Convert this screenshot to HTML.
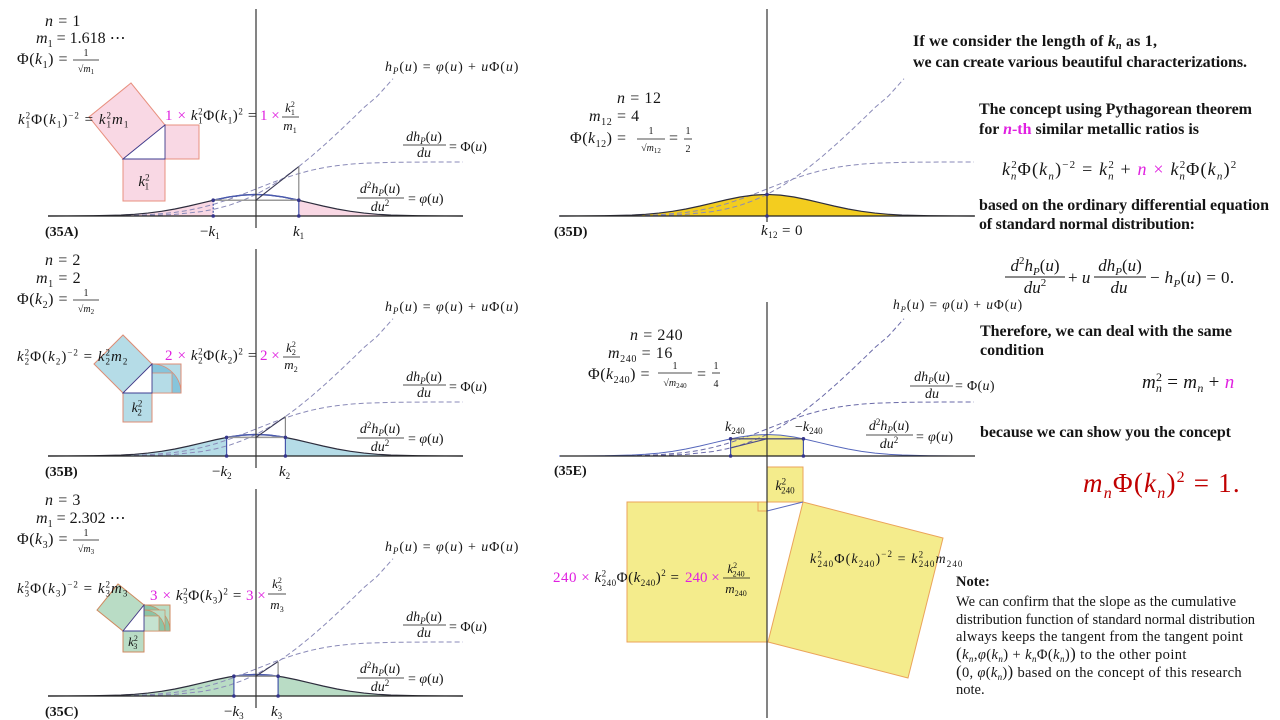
<!DOCTYPE html>
<html><head><meta charset="utf-8">
<style>
html,body{margin:0;padding:0;background:#fff;}
svg{display:block;}
text{font-family:"Liberation Serif","DejaVu Serif",serif;fill:#151515;}
.i{font-style:italic;}
.b{font-weight:bold;}
.pk{fill:#e020e0;}
.red{fill:#c00000;}
</style></head><body>
<svg width="1280" height="720" viewBox="0 0 1280 720" xmlns="http://www.w3.org/2000/svg">
<defs>
<path id="N" d="M-208,0 L-189,-0.05 L-162,-0.24 L-135,-0.95 L-121.5,-1.7 L-108,-2.92 L-94.5,-4.66 L-81,-6.99 L-67.5,-9.86 L-54,-13.07 L-40.5,-16.26 L-27,-19.01 L-13.5,-20.88 L0,-21.54 L13.5,-20.88 L27,-19.01 L40.5,-16.26 L54,-13.07 L67.5,-9.86 L81,-6.99 L94.5,-4.66 L108,-2.92 L121.5,-1.7 L135,-0.95 L162,-0.24 L189,-0.05 L207,0"/>
<path id="NA" d="M-208,0 L-189,-0.05 L-162,-0.24 L-135,-0.95 L-121.5,-1.7 L-108,-2.92 L-94.5,-4.66 L-81,-6.99 L-67.5,-9.86 L-54,-13.07 L-40.5,-16.26 L-27,-19.01 L-13.5,-20.88 L0,-21.54 L13.5,-20.88 L27,-19.01 L40.5,-16.26 L54,-13.07 L67.5,-9.86 L81,-6.99 L94.5,-4.66 L108,-2.92 L121.5,-1.7 L135,-0.95 L162,-0.24 L189,-0.05 L207,0 Z"/>
<path id="PH" d="M-162,-0.07 L-135,-0.33 L-108,-1.23 L-81,-3.61 L-67.5,-5.7 L-54,-8.57 L-40.5,-12.24 L-27,-16.66 L-13.5,-21.67 L0,-27 L13.5,-32.33 L27,-37.34 L40.5,-41.76 L54,-45.43 L67.5,-48.3 L81,-50.39 L94.5,-51.84 L108,-52.77 L135,-53.67 L162,-53.93 L207,-54"/>
<path id="H" d="M-162,-0.02 L-135,-0.11 L-108,-0.45 L-81,-1.58 L-54,-4.5 L-40.5,-7.08 L-27,-10.68 L-13.5,-15.46 L0,-21.54 L13.5,-28.97 L27,-37.68 L40.5,-47.58 L54,-58.5 L67.5,-70.23 L81,-82.58 L94.5,-95.37 L108,-108.45 L121.5,-120 L137,-137.3"/>
<clipPath id="tA"><rect x="-210" y="-30" width="167.2" height="31"/><rect x="42.8" y="-30" width="168" height="31"/></clipPath>
<clipPath id="mA"><rect x="-42.8" y="-30" width="85.6" height="31"/></clipPath>
<clipPath id="tB"><rect x="-210" y="-30" width="180.6" height="31"/><rect x="29.4" y="-30" width="181" height="31"/></clipPath>
<clipPath id="mB"><rect x="-29.4" y="-30" width="58.8" height="31"/></clipPath>
<clipPath id="tC"><rect x="-210" y="-30" width="187.9" height="31"/><rect x="22.1" y="-30" width="188" height="31"/></clipPath>
<clipPath id="mC"><rect x="-22.1" y="-30" width="44.2" height="31"/></clipPath>
<clipPath id="mE"><rect x="-36.4" y="-30" width="72.8" height="31"/></clipPath>
</defs>

<!-- ============ PANEL A ============ -->
<g transform="translate(256,216)">
<use href="#NA" fill="#f9d8e4" clip-path="url(#tA)"/>
<use href="#PH" fill="none" stroke="#8a8ab8" stroke-width="1" stroke-dasharray="5 3"/>
<use href="#H" fill="none" stroke="#8a8ab8" stroke-width="1" stroke-dasharray="5 3"/>
<use href="#N" fill="none" stroke="#2d2d3d" stroke-width="1.2"/>
<use href="#N" fill="none" stroke="#4a5ab0" stroke-width="1.4" clip-path="url(#mA)"/>
<path d="M-42.8,-15.8 H42.8" stroke="#999" stroke-width="1.5"/>
<path d="M0,-15.8 L42.8,-49.4" stroke="#3a3a55" stroke-width="1.1"/>
<path d="M42.8,-49.4 V-15.8" stroke="#888" stroke-width="1.2"/>
<path d="M42.8,-15.8 V0" stroke="#4455aa" stroke-width="1.2"/>
<path d="M-42.8,-15.8 V0" stroke="#4455aa" stroke-width="1.2" stroke-dasharray="2 1.5"/>
<path d="M-208,0 H207" stroke="#222" stroke-width="1.3"/>
<path d="M0,-207 V12" stroke="#333" stroke-width="1.2"/>
<circle cx="-42.8" cy="-15.8" r="1.8" fill="#35358a"/><circle cx="42.8" cy="-15.8" r="1.8" fill="#35358a"/>
<circle cx="-42.8" cy="0" r="1.8" fill="#35358a"/><circle cx="42.8" cy="0" r="1.8" fill="#35358a"/>
</g>
<polygon points="123,159 165,125 131,83 89,117" fill="#f9d8e4" stroke="#e8907f" stroke-width="1"/>
<rect x="165" y="125" width="34" height="34" fill="#f9d8e4" stroke="#e8907f" stroke-width="1"/>
<rect x="123" y="159" width="42" height="42" fill="#f9d8e4" stroke="#e8907f" stroke-width="1"/>
<polygon points="123,159 165,125 165,159" fill="#fff" stroke="#3d3d90" stroke-width="0.9"/>

<text x="45" y="26" font-size="16" letter-spacing="0.6"><tspan class="i">n</tspan> = 1</text>
<text x="36" y="43" font-size="16"><tspan class="i">m</tspan><tspan font-size="10" dy="4">1</tspan><tspan dy="-4"> = 1.618 ⋯</tspan></text>
<text x="17" y="64" font-size="16" letter-spacing="0.5">Φ(<tspan class="i">k</tspan><tspan font-size="10" dy="4">1</tspan><tspan dy="-4">) =</tspan></text>
<text x="86" y="56" font-size="10" text-anchor="middle">1</text>
<line x1="73" y1="60" x2="99" y2="60" stroke="#151515" stroke-width="0.8"/>
<text x="86" y="72" font-size="10" text-anchor="middle">√<tspan class="i">m</tspan><tspan font-size="7" dy="2">1</tspan></text>

<text x="18" y="124" font-size="15" letter-spacing="1"><tspan class="i">k</tspan><tspan font-size="9" dy="-5.5">2</tspan><tspan font-size="9" dx="-5.5" dy="9">1</tspan><tspan dy="-3.5">Φ(</tspan><tspan class="i">k</tspan><tspan font-size="9" dy="3.5">1</tspan><tspan dy="-3.5">)</tspan><tspan font-size="9" dy="-5.5">−2</tspan><tspan dy="5.5"> = </tspan><tspan class="i">k</tspan><tspan font-size="9" dy="-5.5">2</tspan><tspan font-size="9" dx="-5.5" dy="9">1</tspan><tspan class="i" dy="-3.5">m</tspan><tspan font-size="9" dy="3.5">1</tspan></text>
<text x="165" y="120" font-size="15" letter-spacing="0.6"><tspan class="pk">1 × </tspan><tspan class="i">k</tspan><tspan font-size="9" dy="-5.5">2</tspan><tspan font-size="9" dx="-5.1" dy="9">1</tspan><tspan dy="-3.5">Φ(</tspan><tspan class="i">k</tspan><tspan font-size="9" dy="3.5">1</tspan><tspan dy="-3.5">)</tspan><tspan font-size="9" dy="-5.5">2</tspan><tspan dy="5.5"> =</tspan></text>
<text x="260" y="120" font-size="15" class="pk">1 ×</text>
<text x="290" y="112" font-size="13" text-anchor="middle"><tspan class="i">k</tspan><tspan font-size="8" dy="-5">2</tspan><tspan font-size="8" dx="-4" dy="8">1</tspan></text>
<line x1="282" y1="117" x2="299" y2="117" stroke="#151515" stroke-width="0.8"/>
<text x="290" y="130" font-size="13" text-anchor="middle"><tspan class="i">m</tspan><tspan font-size="8" dy="3">1</tspan></text>
<text x="144" y="186" font-size="15" text-anchor="middle"><tspan class="i">k</tspan><tspan font-size="9" dy="-5.5">2</tspan><tspan font-size="9" dx="-5" dy="9">1</tspan></text>

<text x="385" y="71" font-size="14" letter-spacing="0.9"><tspan class="i">h</tspan><tspan class="i" font-size="9" dy="3">P</tspan><tspan dy="-3">(</tspan><tspan class="i">u</tspan>) = <tspan class="i">φ</tspan>(<tspan class="i">u</tspan>) + <tspan class="i">u</tspan>Φ(<tspan class="i">u</tspan>)</text>
<text x="424" y="141" font-size="14" text-anchor="middle"><tspan class="i">dh</tspan><tspan class="i" font-size="9" dy="3">P</tspan><tspan dy="-3">(</tspan><tspan class="i">u</tspan>)</text>
<line x1="403" y1="145" x2="446" y2="145" stroke="#151515" stroke-width="0.8"/>
<text x="424" y="157" font-size="14" text-anchor="middle" class="i">du</text>
<text x="449" y="151" font-size="14">= Φ(<tspan class="i">u</tspan>)</text>
<text x="380" y="193" font-size="14" text-anchor="middle"><tspan class="i">d</tspan><tspan font-size="9" dy="-5">2</tspan><tspan class="i" dy="5">h</tspan><tspan class="i" font-size="9" dy="3">P</tspan><tspan dy="-3">(</tspan><tspan class="i">u</tspan>)</text>
<line x1="357" y1="198" x2="404" y2="198" stroke="#151515" stroke-width="0.8"/>
<text x="380" y="211" font-size="14" text-anchor="middle"><tspan class="i">du</tspan><tspan font-size="9" dy="-5">2</tspan></text>
<text x="408" y="203" font-size="14">= <tspan class="i">φ</tspan>(<tspan class="i">u</tspan>)</text>

<text x="45" y="236" font-size="14" class="b">(35A)</text>
<text x="200" y="236" font-size="15">−<tspan class="i">k</tspan><tspan font-size="9" dy="3">1</tspan></text>
<text x="293" y="236" font-size="15"><tspan class="i">k</tspan><tspan font-size="9" dy="3">1</tspan></text>

<!-- ============ PANEL B ============ -->
<g transform="translate(256,456)">
<use href="#NA" fill="#b5dce7" clip-path="url(#tB)"/>
<use href="#PH" fill="none" stroke="#8a8ab8" stroke-width="1" stroke-dasharray="5 3"/>
<use href="#H" fill="none" stroke="#8a8ab8" stroke-width="1" stroke-dasharray="5 3"/>
<use href="#N" fill="none" stroke="#2d2d3d" stroke-width="1.2"/>
<use href="#N" fill="none" stroke="#4a5ab0" stroke-width="1.4" clip-path="url(#mB)"/>
<path d="M-29.4,-18.6 H29.4" stroke="#999" stroke-width="1.5"/>
<path d="M0,-18.6 L29.4,-39.4" stroke="#3a3a55" stroke-width="1.1"/>
<path d="M29.4,-39.4 V-18.6" stroke="#888" stroke-width="1.2"/>
<path d="M29.4,-18.6 V0" stroke="#4455aa" stroke-width="1.2"/>
<path d="M-29.4,-18.6 V0" stroke="#4455aa" stroke-width="1.2"/>
<path d="M-208,0 H207" stroke="#222" stroke-width="1.3"/>
<path d="M0,-207 V12" stroke="#333" stroke-width="1.2"/>
<circle cx="-29.4" cy="-18.6" r="1.8" fill="#35358a"/><circle cx="29.4" cy="-18.6" r="1.8" fill="#35358a"/>
<circle cx="-29.4" cy="0" r="1.8" fill="#35358a"/><circle cx="29.4" cy="0" r="1.8" fill="#35358a"/>
</g>
<polygon points="123,393 152,364 123,335 94,364" fill="#b5dce7" stroke="#dd8c74" stroke-width="1"/>
<rect x="152" y="364" width="29" height="29" fill="#b5dce7" stroke="#dd8c74" stroke-width="1"/>
<path d="M152,364 A29,29 0 0 1 181,393 L152,393 Z" fill="#86c5dc" stroke="#dd8c74" stroke-width="0.8"/>
<rect x="152" y="373" width="20" height="20" fill="#b5dce7" stroke="#dd8c74" stroke-width="0.8"/>
<rect x="123" y="393" width="29" height="29" fill="#b5dce7" stroke="#dd8c74" stroke-width="1"/>
<polygon points="123,393 152,364 152,393" fill="#fff" stroke="#3d3d90" stroke-width="0.9"/>

<text x="45" y="265" font-size="16" letter-spacing="0.6"><tspan class="i">n</tspan> = 2</text>
<text x="36" y="283" font-size="16" letter-spacing="0.6"><tspan class="i">m</tspan><tspan font-size="10" dy="4">1</tspan><tspan dy="-4"> = 2</tspan></text>
<text x="17" y="304" font-size="16" letter-spacing="0.5">Φ(<tspan class="i">k</tspan><tspan font-size="10" dy="4">2</tspan><tspan dy="-4">) =</tspan></text>
<text x="86" y="296" font-size="10" text-anchor="middle">1</text>
<line x1="73" y1="300" x2="99" y2="300" stroke="#151515" stroke-width="0.8"/>
<text x="86" y="312" font-size="10" text-anchor="middle">√<tspan class="i">m</tspan><tspan font-size="7" dy="2">2</tspan></text>

<text x="17" y="361" font-size="15" letter-spacing="1"><tspan class="i">k</tspan><tspan font-size="9" dy="-5.5">2</tspan><tspan font-size="9" dx="-5.5" dy="9">2</tspan><tspan dy="-3.5">Φ(</tspan><tspan class="i">k</tspan><tspan font-size="9" dy="3.5">2</tspan><tspan dy="-3.5">)</tspan><tspan font-size="9" dy="-5.5">−2</tspan><tspan dy="5.5"> = </tspan><tspan class="i">k</tspan><tspan font-size="9" dy="-5.5">2</tspan><tspan font-size="9" dx="-5.5" dy="9">2</tspan><tspan class="i" dy="-3.5">m</tspan><tspan font-size="9" dy="3.5">2</tspan></text>
<text x="165" y="360" font-size="15" letter-spacing="0.6"><tspan class="pk">2 × </tspan><tspan class="i">k</tspan><tspan font-size="9" dy="-5.5">2</tspan><tspan font-size="9" dx="-5.1" dy="9">2</tspan><tspan dy="-3.5">Φ(</tspan><tspan class="i">k</tspan><tspan font-size="9" dy="3.5">2</tspan><tspan dy="-3.5">)</tspan><tspan font-size="9" dy="-5.5">2</tspan><tspan dy="5.5"> =</tspan></text>
<text x="260" y="360" font-size="15" class="pk">2 ×</text>
<text x="291" y="352" font-size="13" text-anchor="middle"><tspan class="i">k</tspan><tspan font-size="8" dy="-5">2</tspan><tspan font-size="8" dx="-4" dy="8">2</tspan></text>
<line x1="283" y1="357" x2="300" y2="357" stroke="#151515" stroke-width="0.8"/>
<text x="291" y="369" font-size="13" text-anchor="middle"><tspan class="i">m</tspan><tspan font-size="8" dy="3">2</tspan></text>
<text x="137" y="412" font-size="14" text-anchor="middle"><tspan class="i">k</tspan><tspan font-size="9" dy="-5.5">2</tspan><tspan font-size="9" dx="-5" dy="9">2</tspan></text>

<text x="385" y="311" font-size="14" letter-spacing="0.9"><tspan class="i">h</tspan><tspan class="i" font-size="9" dy="3">P</tspan><tspan dy="-3">(</tspan><tspan class="i">u</tspan>) = <tspan class="i">φ</tspan>(<tspan class="i">u</tspan>) + <tspan class="i">u</tspan>Φ(<tspan class="i">u</tspan>)</text>
<text x="424" y="381" font-size="14" text-anchor="middle"><tspan class="i">dh</tspan><tspan class="i" font-size="9" dy="3">P</tspan><tspan dy="-3">(</tspan><tspan class="i">u</tspan>)</text>
<line x1="403" y1="385" x2="446" y2="385" stroke="#151515" stroke-width="0.8"/>
<text x="424" y="397" font-size="14" text-anchor="middle" class="i">du</text>
<text x="449" y="391" font-size="14">= Φ(<tspan class="i">u</tspan>)</text>
<text x="380" y="433" font-size="14" text-anchor="middle"><tspan class="i">d</tspan><tspan font-size="9" dy="-5">2</tspan><tspan class="i" dy="5">h</tspan><tspan class="i" font-size="9" dy="3">P</tspan><tspan dy="-3">(</tspan><tspan class="i">u</tspan>)</text>
<line x1="357" y1="438" x2="404" y2="438" stroke="#151515" stroke-width="0.8"/>
<text x="380" y="451" font-size="14" text-anchor="middle"><tspan class="i">du</tspan><tspan font-size="9" dy="-5">2</tspan></text>
<text x="408" y="443" font-size="14">= <tspan class="i">φ</tspan>(<tspan class="i">u</tspan>)</text>

<text x="45" y="476" font-size="14" class="b">(35B)</text>
<text x="212" y="476" font-size="15">−<tspan class="i">k</tspan><tspan font-size="9" dy="3">2</tspan></text>
<text x="279" y="476" font-size="15"><tspan class="i">k</tspan><tspan font-size="9" dy="3">2</tspan></text>

<!-- ============ PANEL C ============ -->
<g transform="translate(256,696)">
<use href="#NA" fill="#b9dcc5" clip-path="url(#tC)"/>
<use href="#PH" fill="none" stroke="#8a8ab8" stroke-width="1" stroke-dasharray="5 3"/>
<use href="#H" fill="none" stroke="#8a8ab8" stroke-width="1" stroke-dasharray="5 3"/>
<use href="#N" fill="none" stroke="#2d2d3d" stroke-width="1.2"/>
<use href="#N" fill="none" stroke="#4a5ab0" stroke-width="1.4" clip-path="url(#mC)"/>
<path d="M-22.1,-19.8 H22.1" stroke="#999" stroke-width="1.5"/>
<path d="M0,-19.8 L22.1,-34.4" stroke="#3a3a55" stroke-width="1.1"/>
<path d="M22.1,-34.4 V-19.8" stroke="#888" stroke-width="1.2"/>
<path d="M22.1,-19.8 V0" stroke="#4455aa" stroke-width="1.2"/>
<path d="M-22.1,-19.8 V0" stroke="#4455aa" stroke-width="1.2"/>
<path d="M-208,0 H207" stroke="#222" stroke-width="1.3"/>
<path d="M0,-207 V12" stroke="#333" stroke-width="1.2"/>
<circle cx="-22.1" cy="-19.8" r="1.8" fill="#35358a"/><circle cx="22.1" cy="-19.8" r="1.8" fill="#35358a"/>
<circle cx="-22.1" cy="0" r="1.8" fill="#35358a"/><circle cx="22.1" cy="0" r="1.8" fill="#35358a"/>
</g>
<polygon points="123,631 144,605 118,584 97,610" fill="#b9dcc5" stroke="#cf8a60" stroke-width="1"/>
<rect x="144" y="605" width="26" height="26" fill="#b9dcc5" stroke="#cf8a60" stroke-width="1"/>
<path d="M144,605 A26,26 0 0 1 170,631 L144,631 Z" fill="#8cc4a6" stroke="#cf8a60" stroke-width="0.7"/>
<rect x="144" y="610" width="21" height="21" fill="#b9dcc5" stroke="#cf8a60" stroke-width="0.7"/>
<path d="M144,610 A21,21 0 0 1 165,631 L144,631 Z" fill="#8cc4a6" stroke="#cf8a60" stroke-width="0.7"/>
<rect x="144" y="616" width="15" height="15" fill="#c5e3d0" stroke="#cf8a60" stroke-width="0.7"/>
<rect x="123" y="631" width="21" height="21" fill="#b9dcc5" stroke="#cf8a60" stroke-width="1"/>
<polygon points="123,631 144,605 144,631" fill="#fff" stroke="#3d3d90" stroke-width="0.9"/>

<text x="45" y="505" font-size="16" letter-spacing="0.6"><tspan class="i">n</tspan> = 3</text>
<text x="36" y="523" font-size="16"><tspan class="i">m</tspan><tspan font-size="10" dy="4">1</tspan><tspan dy="-4"> = 2.302 ⋯</tspan></text>
<text x="17" y="544" font-size="16" letter-spacing="0.5">Φ(<tspan class="i">k</tspan><tspan font-size="10" dy="4">3</tspan><tspan dy="-4">) =</tspan></text>
<text x="86" y="536" font-size="10" text-anchor="middle">1</text>
<line x1="73" y1="540" x2="99" y2="540" stroke="#151515" stroke-width="0.8"/>
<text x="86" y="552" font-size="10" text-anchor="middle">√<tspan class="i">m</tspan><tspan font-size="7" dy="2">3</tspan></text>

<text x="17" y="593" font-size="15" letter-spacing="1"><tspan class="i">k</tspan><tspan font-size="9" dy="-5.5">2</tspan><tspan font-size="9" dx="-5.5" dy="9">3</tspan><tspan dy="-3.5">Φ(</tspan><tspan class="i">k</tspan><tspan font-size="9" dy="3.5">3</tspan><tspan dy="-3.5">)</tspan><tspan font-size="9" dy="-5.5">−2</tspan><tspan dy="5.5"> = </tspan><tspan class="i">k</tspan><tspan font-size="9" dy="-5.5">2</tspan><tspan font-size="9" dx="-5.5" dy="9">3</tspan><tspan class="i" dy="-3.5">m</tspan><tspan font-size="9" dy="3.5">3</tspan></text>
<text x="150" y="600" font-size="15" letter-spacing="0.6"><tspan class="pk">3 × </tspan><tspan class="i">k</tspan><tspan font-size="9" dy="-5.5">2</tspan><tspan font-size="9" dx="-5.1" dy="9">3</tspan><tspan dy="-3.5">Φ(</tspan><tspan class="i">k</tspan><tspan font-size="9" dy="3.5">3</tspan><tspan dy="-3.5">)</tspan><tspan font-size="9" dy="-5.5">2</tspan><tspan dy="5.5"> =</tspan></text>
<text x="246" y="600" font-size="15" class="pk">3 ×</text>
<text x="277" y="588" font-size="13" text-anchor="middle"><tspan class="i">k</tspan><tspan font-size="8" dy="-5">2</tspan><tspan font-size="8" dx="-4" dy="8">3</tspan></text>
<line x1="268" y1="594" x2="286" y2="594" stroke="#151515" stroke-width="0.8"/>
<text x="277" y="609" font-size="13" text-anchor="middle"><tspan class="i">m</tspan><tspan font-size="8" dy="3">3</tspan></text>
<text x="133" y="646" font-size="13" text-anchor="middle"><tspan class="i">k</tspan><tspan font-size="8" dy="-5">2</tspan><tspan font-size="8" dx="-4.5" dy="8">3</tspan></text>

<text x="385" y="551" font-size="14" letter-spacing="0.9"><tspan class="i">h</tspan><tspan class="i" font-size="9" dy="3">P</tspan><tspan dy="-3">(</tspan><tspan class="i">u</tspan>) = <tspan class="i">φ</tspan>(<tspan class="i">u</tspan>) + <tspan class="i">u</tspan>Φ(<tspan class="i">u</tspan>)</text>
<text x="424" y="621" font-size="14" text-anchor="middle"><tspan class="i">dh</tspan><tspan class="i" font-size="9" dy="3">P</tspan><tspan dy="-3">(</tspan><tspan class="i">u</tspan>)</text>
<line x1="403" y1="625" x2="446" y2="625" stroke="#151515" stroke-width="0.8"/>
<text x="424" y="637" font-size="14" text-anchor="middle" class="i">du</text>
<text x="449" y="631" font-size="14">= Φ(<tspan class="i">u</tspan>)</text>
<text x="380" y="673" font-size="14" text-anchor="middle"><tspan class="i">d</tspan><tspan font-size="9" dy="-5">2</tspan><tspan class="i" dy="5">h</tspan><tspan class="i" font-size="9" dy="3">P</tspan><tspan dy="-3">(</tspan><tspan class="i">u</tspan>)</text>
<line x1="357" y1="678" x2="404" y2="678" stroke="#151515" stroke-width="0.8"/>
<text x="380" y="691" font-size="14" text-anchor="middle"><tspan class="i">du</tspan><tspan font-size="9" dy="-5">2</tspan></text>
<text x="408" y="683" font-size="14">= <tspan class="i">φ</tspan>(<tspan class="i">u</tspan>)</text>

<text x="45" y="716" font-size="14" class="b">(35C)</text>
<text x="224" y="716" font-size="15">−<tspan class="i">k</tspan><tspan font-size="9" dy="3">3</tspan></text>
<text x="271" y="716" font-size="15"><tspan class="i">k</tspan><tspan font-size="9" dy="3">3</tspan></text>

<!-- ============ PANEL D ============ -->
<g transform="translate(767,216)">
<use href="#NA" fill="#f3cd1f"/>
<use href="#PH" fill="none" stroke="#8a8ab8" stroke-width="1" stroke-dasharray="5 3"/>
<use href="#H" fill="none" stroke="#8a8ab8" stroke-width="1" stroke-dasharray="5 3"/>
<use href="#N" fill="none" stroke="#2d2d3d" stroke-width="1.2"/>
<path d="M-207,0 H208" stroke="#222" stroke-width="1.3"/>
<path d="M0,-207 V6" stroke="#333" stroke-width="1.2"/>
<circle cx="0" cy="-21.5" r="1.8" fill="#35358a"/><circle cx="0" cy="0" r="1.8" fill="#35358a"/>
</g>
<text x="617" y="103" font-size="16" letter-spacing="0.6"><tspan class="i">n</tspan> = 12</text>
<text x="589" y="121" font-size="16" letter-spacing="0.6"><tspan class="i">m</tspan><tspan font-size="10" dy="4">12</tspan><tspan dy="-4"> = 4</tspan></text>
<text x="570" y="143" font-size="16" letter-spacing="0.5">Φ(<tspan class="i">k</tspan><tspan font-size="10" dy="4">12</tspan><tspan dy="-4">) =</tspan></text>
<text x="651" y="134" font-size="10" text-anchor="middle">1</text>
<line x1="637" y1="139" x2="665" y2="139" stroke="#151515" stroke-width="0.8"/>
<text x="651" y="151" font-size="10" text-anchor="middle">√<tspan class="i">m</tspan><tspan font-size="7" dy="2">12</tspan></text>
<text x="669" y="143" font-size="16">=</text>
<text x="688" y="134" font-size="10" text-anchor="middle">1</text>
<line x1="684" y1="139" x2="692" y2="139" stroke="#151515" stroke-width="0.8"/>
<text x="688" y="152" font-size="10" text-anchor="middle">2</text>
<text x="554" y="236" font-size="14" class="b">(35D)</text>
<text x="761" y="235" font-size="15" letter-spacing="0.4"><tspan class="i">k</tspan><tspan font-size="9" dy="3">12</tspan><tspan dy="-3"> = 0</tspan></text>

<!-- ============ PANEL E ============ -->
<g transform="translate(767,456)">
<use href="#NA" fill="#f4ec8c" clip-path="url(#mE)"/>
<use href="#PH" fill="none" stroke="#6a6aa8" stroke-width="1" stroke-dasharray="5 3"/>
<use href="#H" fill="none" stroke="#6a6aa8" stroke-width="1" stroke-dasharray="5 3"/>
<use href="#N" fill="none" stroke="#5566bb" stroke-width="1"/>
<path d="M-36.4,-17.2 H36.4" stroke="#55557a" stroke-width="1.3"/>
<path d="M-36.4,-8.07 L0,-17.2" stroke="#4a4a8a" stroke-width="1.1"/>
<path d="M-36.4,-17.2 V0 M36.4,-17.2 V0" stroke="#4455aa" stroke-width="1.2"/>
<path d="M-207,0 H208" stroke="#222" stroke-width="1.3"/>
<circle cx="-36.4" cy="-17.2" r="1.8" fill="#35358a"/><circle cx="36.4" cy="-17.2" r="1.8" fill="#35358a"/>
<circle cx="-36.4" cy="0" r="1.8" fill="#35358a"/><circle cx="36.4" cy="0" r="1.8" fill="#35358a"/>
</g>
<rect x="767" y="467" width="36" height="35" fill="#f4ec8c" stroke="#eba35a" stroke-width="1"/>
<rect x="627" y="502" width="140" height="140" fill="#f4ec8c" stroke="#eba35a" stroke-width="1"/>
<polygon points="803,502 943,538 908,678 768,642" fill="#f4ec8c" stroke="#eba35a" stroke-width="1"/>
<rect x="758" y="502" width="9" height="9" fill="none" stroke="#eba35a" stroke-width="1"/>
<line x1="767" y1="511" x2="803" y2="502" stroke="#5b6cc0" stroke-width="1"/>
<line x1="767" y1="302" x2="767" y2="718" stroke="#333" stroke-width="1.2"/>

<text x="630" y="340" font-size="16" letter-spacing="0.6"><tspan class="i">n</tspan> = 240</text>
<text x="608" y="358" font-size="16" letter-spacing="0.6"><tspan class="i">m</tspan><tspan font-size="10" dy="4">240</tspan><tspan dy="-4"> = 16</tspan></text>
<text x="588" y="379" font-size="16" letter-spacing="0.5">Φ(<tspan class="i">k</tspan><tspan font-size="10" dy="4">240</tspan><tspan dy="-4">) =</tspan></text>
<text x="675" y="369" font-size="10" text-anchor="middle">1</text>
<line x1="658" y1="373" x2="692" y2="373" stroke="#151515" stroke-width="0.8"/>
<text x="675" y="386" font-size="10" text-anchor="middle">√<tspan class="i">m</tspan><tspan font-size="7" dy="2">240</tspan></text>
<text x="697" y="379" font-size="16">=</text>
<text x="716" y="369" font-size="10" text-anchor="middle">1</text>
<line x1="712" y1="373" x2="720" y2="373" stroke="#151515" stroke-width="0.8"/>
<text x="716" y="387" font-size="10" text-anchor="middle">4</text>

<text x="725" y="431" font-size="14"><tspan class="i">k</tspan><tspan font-size="9" dy="3">240</tspan></text>
<text x="795" y="431" font-size="14">−<tspan class="i">k</tspan><tspan font-size="9" dy="3">240</tspan></text>

<text x="893" y="309" font-size="13.5" letter-spacing="0.9"><tspan class="i">h</tspan><tspan class="i" font-size="8.5" dy="3">P</tspan><tspan dy="-3">(</tspan><tspan class="i">u</tspan>) = <tspan class="i">φ</tspan>(<tspan class="i">u</tspan>) + <tspan class="i">u</tspan>Φ(<tspan class="i">u</tspan>)</text>
<text x="932" y="381" font-size="14" text-anchor="middle"><tspan class="i">dh</tspan><tspan class="i" font-size="9" dy="3">P</tspan><tspan dy="-3">(</tspan><tspan class="i">u</tspan>)</text>
<line x1="910" y1="386" x2="953" y2="386" stroke="#151515" stroke-width="0.8"/>
<text x="932" y="398" font-size="14" text-anchor="middle" class="i">du</text>
<text x="955" y="390" font-size="14" letter-spacing="0.3">= Φ(<tspan class="i">u</tspan>)</text>
<text x="889" y="430" font-size="14" text-anchor="middle"><tspan class="i">d</tspan><tspan font-size="9" dy="-5">2</tspan><tspan class="i" dy="5">h</tspan><tspan class="i" font-size="9" dy="3">P</tspan><tspan dy="-3">(</tspan><tspan class="i">u</tspan>)</text>
<line x1="866" y1="435" x2="913" y2="435" stroke="#151515" stroke-width="0.8"/>
<text x="889" y="448" font-size="14" text-anchor="middle"><tspan class="i">du</tspan><tspan font-size="9" dy="-5">2</tspan></text>
<text x="916" y="441" font-size="14" letter-spacing="0.3">= <tspan class="i">φ</tspan>(<tspan class="i">u</tspan>)</text>

<text x="554" y="475" font-size="14" class="b">(35E)</text>

<text x="785" y="490" font-size="14" text-anchor="middle"><tspan class="i">k</tspan><tspan font-size="9" dy="-5.5">2</tspan><tspan font-size="9" dx="-5" dy="9">240</tspan></text>
<text x="553" y="582" font-size="15" letter-spacing="0.5"><tspan class="pk">240 × </tspan><tspan class="i">k</tspan><tspan font-size="9" dy="-5.5">2</tspan><tspan font-size="9" dx="-5" dy="9.5">240</tspan><tspan dy="-4">Φ(</tspan><tspan class="i">k</tspan><tspan font-size="9" dy="4">240</tspan><tspan dy="-4">)</tspan><tspan font-size="9" dy="-6">2</tspan><tspan dy="6"> =</tspan></text>
<text x="685" y="582" font-size="15" class="pk">240 ×</text>
<text x="736" y="573" font-size="13" text-anchor="middle"><tspan class="i">k</tspan><tspan font-size="8" dy="-5">2</tspan><tspan font-size="8" dx="-4.5" dy="8.5">240</tspan></text>
<line x1="723" y1="578" x2="750" y2="578" stroke="#151515" stroke-width="0.8"/>
<text x="736" y="593" font-size="13" text-anchor="middle"><tspan class="i">m</tspan><tspan font-size="8" dy="3">240</tspan></text>
<text x="810" y="563" font-size="14" letter-spacing="1.1"><tspan class="i">k</tspan><tspan font-size="9" dy="-5.5">2</tspan><tspan font-size="9" dx="-5.5" dy="9.5">240</tspan><tspan dy="-4">Φ(</tspan><tspan class="i">k</tspan><tspan font-size="9" dy="4">240</tspan><tspan dy="-4">)</tspan><tspan font-size="9" dy="-6">−2</tspan><tspan dy="6"> = </tspan><tspan class="i">k</tspan><tspan font-size="9" dy="-5.5">2</tspan><tspan font-size="9" dx="-5.5" dy="9.5">240</tspan><tspan class="i" dy="-4">m</tspan><tspan font-size="9" dy="4">240</tspan></text>

<!-- ============ RIGHT TEXT ============ -->
<text x="913" y="46" font-size="16" class="b" textLength="244" lengthAdjust="spacing">If we consider the length of <tspan class="i">k</tspan><tspan font-size="10" class="i" dy="3">n</tspan><tspan dy="-3"> as 1,</tspan></text>
<text x="913" y="67" font-size="16" class="b" textLength="334" lengthAdjust="spacing">we can create various beautiful characterizations.</text>
<text x="979" y="114" font-size="16" class="b" textLength="273" lengthAdjust="spacing">The concept using Pythagorean theorem</text>
<text x="979" y="134" font-size="16" class="b" textLength="220" lengthAdjust="spacing">for <tspan class="pk i">n</tspan><tspan class="pk">-th</tspan> similar metallic ratios is</text>

<text x="1002" y="175" font-size="18" letter-spacing="1.2"><tspan class="i">k</tspan><tspan font-size="11" dy="-7">2</tspan><tspan font-size="11" class="i" dx="-7" dy="11.5">n</tspan><tspan dy="-4.5">Φ(</tspan><tspan class="i">k</tspan><tspan font-size="11" class="i" dy="4.5">n</tspan><tspan dy="-4.5">)</tspan><tspan font-size="11" dy="-7">−2</tspan><tspan dy="7"> = </tspan><tspan class="i">k</tspan><tspan font-size="11" dy="-7">2</tspan><tspan font-size="11" class="i" dx="-7" dy="11.5">n</tspan><tspan dy="-4.5"> + </tspan><tspan class="i pk">n</tspan><tspan class="pk"> × </tspan><tspan class="i">k</tspan><tspan font-size="11" dy="-7">2</tspan><tspan font-size="11" class="i" dx="-7" dy="11.5">n</tspan><tspan dy="-4.5">Φ(</tspan><tspan class="i">k</tspan><tspan font-size="11" class="i" dy="4.5">n</tspan><tspan dy="-4.5">)</tspan><tspan font-size="11" dy="-7">2</tspan></text>

<text x="979" y="210" font-size="16" class="b" textLength="290" lengthAdjust="spacing">based on the ordinary differential equation</text>
<text x="979" y="229" font-size="16" class="b" textLength="216" lengthAdjust="spacing">of standard normal distribution:</text>

<!-- ODE -->
<text x="1035" y="271" font-size="17" text-anchor="middle"><tspan class="i">d</tspan><tspan font-size="11" dy="-7">2</tspan><tspan class="i" dy="7">h</tspan><tspan class="i" font-size="11" dy="4">P</tspan><tspan dy="-4">(</tspan><tspan class="i">u</tspan>)</text>
<line x1="1005" y1="277" x2="1065" y2="277" stroke="#151515" stroke-width="0.9"/>
<text x="1035" y="293" font-size="17" text-anchor="middle"><tspan class="i">du</tspan><tspan font-size="11" dy="-7">2</tspan></text>
<text x="1068" y="283" font-size="17">+ <tspan class="i">u</tspan></text>
<text x="1120" y="271" font-size="17" text-anchor="middle"><tspan class="i">dh</tspan><tspan class="i" font-size="11" dy="4">P</tspan><tspan dy="-4">(</tspan><tspan class="i">u</tspan>)</text>
<line x1="1094" y1="277" x2="1146" y2="277" stroke="#151515" stroke-width="0.9"/>
<text x="1119" y="293" font-size="17" text-anchor="middle" class="i">du</text>
<text x="1150" y="283" font-size="17" letter-spacing="0.4">− <tspan class="i">h</tspan><tspan class="i" font-size="11" dy="4">P</tspan><tspan dy="-4">(</tspan><tspan class="i">u</tspan>) = 0.</text>

<text x="980" y="336" font-size="16" class="b" textLength="252" lengthAdjust="spacing">Therefore, we can deal with the same</text>
<text x="980" y="355" font-size="16" class="b">condition</text>

<text x="1142" y="388" font-size="19" letter-spacing="0.3"><tspan class="i">m</tspan><tspan font-size="12" dy="-7">2</tspan><tspan font-size="12" class="i" dx="-6.5" dy="11">n</tspan><tspan dy="-4"> = </tspan><tspan class="i">m</tspan><tspan font-size="12" class="i" dy="4">n</tspan><tspan dy="-4"> + </tspan><tspan class="i pk">n</tspan></text>

<text x="980" y="437" font-size="16" class="b" textLength="251" lengthAdjust="spacing">because we can show you the concept</text>

<text x="1083" y="492" font-size="27" letter-spacing="1.2" class="red"><tspan class="i">m</tspan><tspan font-size="16" class="i" dy="6">n</tspan><tspan dy="-6">Φ(</tspan><tspan class="i">k</tspan><tspan font-size="16" class="i" dy="6">n</tspan><tspan dy="-6">)</tspan><tspan font-size="16" dy="-10">2</tspan><tspan dy="10"> = 1.</tspan></text>

<!-- Note -->
<text x="956" y="586" font-size="14.5" class="b">Note:</text>
<text x="956" y="606" font-size="14.5" textLength="280" lengthAdjust="spacing">We can confirm that the slope as the cumulative</text>
<text x="956" y="624" font-size="14.5" textLength="299" lengthAdjust="spacing">distribution function of standard normal distribution</text>
<text x="956" y="641" font-size="14.5" textLength="287" lengthAdjust="spacing">always keeps the tangent from the tangent point</text>
<text x="956" y="659" font-size="14.5" letter-spacing="0.4"><tspan font-size="17">(</tspan><tspan class="i">k</tspan><tspan font-size="9" class="i" dy="3">n</tspan><tspan dy="-3">,</tspan><tspan class="i">φ</tspan>(<tspan class="i">k</tspan><tspan font-size="9" class="i" dy="3">n</tspan><tspan dy="-3">) + </tspan><tspan class="i">k</tspan><tspan font-size="9" class="i" dy="3">n</tspan><tspan dy="-3">Φ(</tspan><tspan class="i">k</tspan><tspan font-size="9" class="i" dy="3">n</tspan><tspan dy="-3">)</tspan><tspan font-size="17">)</tspan> to the other point</text>
<text x="956" y="677" font-size="14.5" letter-spacing="0.3"><tspan font-size="17">(</tspan>0, <tspan class="i">φ</tspan>(<tspan class="i">k</tspan><tspan font-size="9" class="i" dy="3">n</tspan><tspan dy="-3">)</tspan><tspan font-size="17">)</tspan> based on the concept of this research</text>
<text x="956" y="694" font-size="14.5">note.</text>
</svg>
</body></html>
